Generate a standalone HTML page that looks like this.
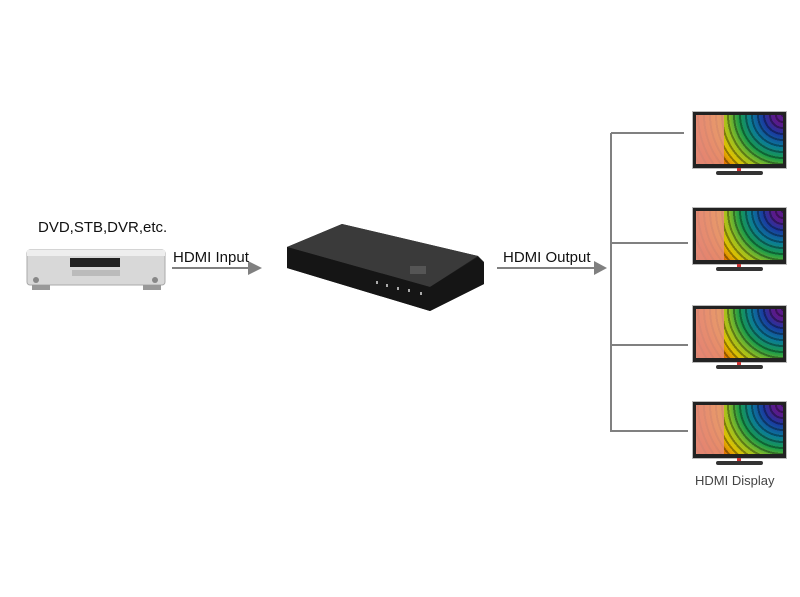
<!DOCTYPE html>
<html><head><meta charset="utf-8"><style>
html,body{margin:0;padding:0;background:#fff;}
body{width:800px;height:597px;position:relative;overflow:hidden;font-family:"Liberation Sans",Arial,sans-serif;}
svg text{font-family:"Liberation Sans",Arial,sans-serif;}
.tv{position:absolute;left:692px;width:95px;}
.tv .scr{position:absolute;left:0;top:0;width:95px;height:58px;background:#222;border:1px solid #bbb;box-sizing:border-box;}
.tv .img{position:absolute;left:3px;top:3px;width:87px;height:49px;
background:repeating-radial-gradient(circle at 100% 0%, rgba(0,0,0,0.35) 0 2px, rgba(0,0,0,0) 2px 6px),
radial-gradient(circle at 100% 0%, #5a1a8a 0 10%, #1a3aa0 20%, #0a7a9a 32%, #1a9a4a 44%, #9ac020 56%, #e0c000 66%, #e06000 78%, #d02000 90%);}
.tv .img:before{content:"";position:absolute;left:0;top:0;width:28px;height:49px;background:linear-gradient(90deg,#e89a88,#e8907a);opacity:.85;}
.tv .stand{position:absolute;left:24px;top:60px;width:47px;height:4px;background:#333;border-radius:2px;}
.tv .neck{position:absolute;left:45px;top:57px;width:4px;height:4px;background:#c33;}
</style></head><body>
<svg width="800" height="597" style="position:absolute;left:0;top:0">
<g stroke="#808080" stroke-width="2" fill="none">
<line x1="172" y1="268" x2="250" y2="268"/>
<line x1="497" y1="268" x2="596" y2="268"/>
<line x1="611" y1="133" x2="611" y2="432"/>
<line x1="611" y1="133" x2="684" y2="133"/>
<line x1="611" y1="243" x2="688" y2="243"/>
<line x1="611" y1="345" x2="688" y2="345"/>
<line x1="611" y1="431" x2="688" y2="431"/>
</g>
<polygon points="248,261 262,268 248,275" fill="#808080"/>
<polygon points="594,261 607,268 594,275" fill="#808080"/>
<rect x="27" y="250" width="138" height="35" rx="3" fill="#d8d8d8" stroke="#aaa"/>
<rect x="27" y="250" width="138" height="6" fill="#eee"/>
<rect x="70" y="258" width="50" height="9" fill="#222"/>
<rect x="72" y="270" width="48" height="6" fill="#bbb"/>
<circle cx="36" cy="280" r="3" fill="#888"/><circle cx="155" cy="280" r="3" fill="#888"/>
<rect x="32" y="285" width="18" height="5" fill="#999"/><rect x="143" y="285" width="18" height="5" fill="#999"/>
<polygon points="287,247 342,224 478,256 484,262 484,284 430,311 287,268" fill="#1e1e1e"/>
<polygon points="287,247 342,224 478,256 430,287" fill="#3a3a3a"/>
<polygon points="287,247 430,287 478,257 484,264 484,284 430,311 287,268" fill="#151515"/>
<rect x="410" y="266" width="16" height="8" fill="#555"/>
<g fill="#aaa"><rect x="376" y="281" width="2" height="3"/><rect x="386" y="284" width="2" height="3"/><rect x="397" y="287" width="2" height="3"/><rect x="408" y="289" width="2" height="3"/><rect x="420" y="292" width="2" height="3"/></g>
<text x="38" y="232" font-size="15" fill="#111" font-family="Liberation Sans, Arial, sans-serif">DVD,STB,DVR,etc.</text>
<text x="173" y="262" font-size="15" fill="#111" font-family="Liberation Sans, Arial, sans-serif">HDMI Input</text>
<text x="503" y="262" font-size="15" fill="#111" font-family="Liberation Sans, Arial, sans-serif">HDMI Output</text>
<text x="695" y="485" font-size="13" fill="#444" font-family="Liberation Sans, Arial, sans-serif">HDMI Display</text>
</svg>
<div class="tv" style="top:111px"><div class="scr"><div class="img"></div></div><div class="neck"></div><div class="stand"></div></div>
<div class="tv" style="top:207px"><div class="scr"><div class="img"></div></div><div class="neck"></div><div class="stand"></div></div>
<div class="tv" style="top:305px"><div class="scr"><div class="img"></div></div><div class="neck"></div><div class="stand"></div></div>
<div class="tv" style="top:401px"><div class="scr"><div class="img"></div></div><div class="neck"></div><div class="stand"></div></div>
</body></html>
